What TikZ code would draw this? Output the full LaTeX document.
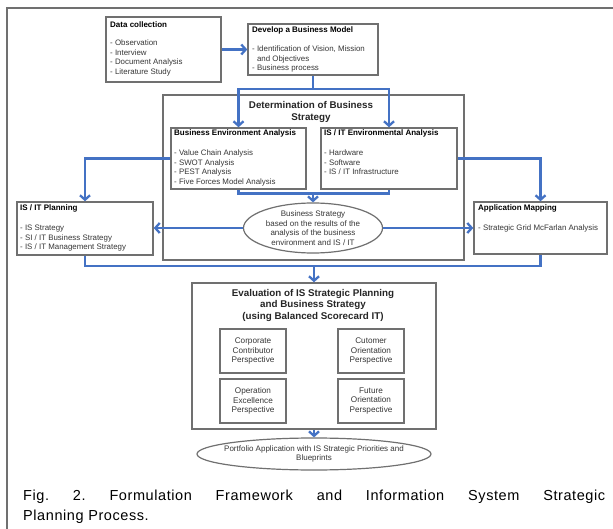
\documentclass[tikz,border=0pt]{standalone}
\usepackage{fontspec}
\setmainfont{Liberation Sans}
\newfontfamily\capfont[LetterSpace=4]{Liberation Sans}
\usetikzlibrary{arrows.meta,shapes.geometric}
\definecolor{lnblue}{RGB}{68,114,196}
\definecolor{bxgray}{RGB}{112,112,112}
\definecolor{txgray}{RGB}{55,55,55}
\newcommand{\mybox}[6]{\node[box,minimum width={(#4-#2)*1pt},minimum height={(#5-#3)*1pt}] (#1) at ({(#2+#4)/2},{(#3+#5)/2}) {#6};}
\begin{document}
\begin{tikzpicture}[x=1pt,y=-1pt,
  box/.style={draw=bxgray,line width=1.4pt,inner sep=0pt,fill=white,align=center,
    font=\fontsize{8.2}{9.4}\selectfont,text=txgray},
  ell/.style={ellipse,draw=bxgray,line width=1.2pt,inner sep=0pt,fill=white},
  ttl/.style={font=\fontsize{8}{9}\selectfont\bfseries,anchor=west,inner sep=0pt,text=black},
  bigttl/.style={font=\fontsize{9.8}{11.5}\selectfont\bfseries,inner sep=0pt,align=center,text=black!85},
  items/.style={font=\fontsize{7.9}{9.5}\selectfont,anchor=north west,inner sep=0pt,align=left,text=txgray},
  etext/.style={font=\fontsize{8}{9.5}\selectfont,inner sep=0pt,align=center,text=txgray},
  conn/.style={draw=lnblue,line width=2.3pt},
  arr/.style={conn,-{Straight Barb[length=4.5pt,width=10pt]}},
  frame/.style={draw=bxgray,line width=2.4pt}
]
\useasboundingbox (0,0) rectangle (613,529);
\clip (0,0) rectangle (613,529);
\draw[frame] (7,540) -- (7,8) -- (620,8);

% top boxes
\mybox{dc}{106}{17}{221}{82}{}
\node[ttl] (dct) at (110,25) {Data collection};
\node[items] (dci) at (110,39.5) {\rule{0pt}{6.2pt}- Observation\\- Interview\\- Document Analysis\\- Literature Study};

\mybox{dbm}{248}{24}{378}{75}{}
\node[ttl] (dbmt) at (252,30) {Develop a Business Model};
\node[items] (dbmi) at (252,45.5) {\rule{0pt}{6.2pt}- Identification of Vision, Mission\\\hphantom{- }and Objectives\\- Business process};

% determination
\mybox{det}{163}{95}{464}{260}{}
\node[bigttl] (dett) at (311,112) {Determination of Business\\Strategy};

\mybox{bea}{171}{128}{306}{189}{}
\node[ttl] (beat) at (174,133) {Business Environment Analysis};
\node[items] (beai) at (174,149.5) {\rule{0pt}{6.2pt}- Value Chain Analysis\\- SWOT Analysis\\- PEST Analysis\\- Five Forces Model Analysis};

\mybox{ise}{321}{128}{457}{189}{}
\node[ttl] (iset) at (324,133) {IS / IT Environmental Analysis};
\node[items] (isei) at (324,149.5) {\rule{0pt}{6.2pt}- Hardware\\- Software\\- IS / IT Infrastructure};

\node[ell,minimum width=139pt,minimum height=50pt] (bs) at (313,228) {};
\node[etext] (bst) at (bs) {Business Strategy\\based on the results of the\\analysis of the business\\environment and IS / IT};

% side boxes
\mybox{plan}{17}{202}{153}{255}{}
\node[ttl] (plant) at (20,208) {IS / IT Planning};
\node[items] (plani) at (20,224.5) {\rule{0pt}{6.2pt}- IS Strategy\\- SI / IT Business Strategy\\- IS / IT Management Strategy};

\mybox{app}{474}{202}{607}{254}{}
\node[ttl] (appt) at (478,208) {Application Mapping};
\node[items] (appi) at (478,224.5) {\rule{0pt}{6.2pt}- Strategic Grid McFarlan Analysis};

% evaluation
\mybox{eval}{192}{283}{436}{429}{}
\node[bigttl] (evalt) at (313,305) {Evaluation of IS Strategic Planning\\and Business Strategy\\(using Balanced Scorecard IT)};
\mybox{ca}{220}{329}{286}{373}{Corporate\\Contributor\\Perspective}
\mybox{cb}{338}{329}{404}{373}{Cutomer\\Orientation\\Perspective}
\mybox{cc}{220}{379}{286}{423}{Operation\\Excellence\\Perspective}
\mybox{cd}{338}{379}{404}{423}{Future\\Orientation\\Perspective}

\node[ell,minimum width=234pt,minimum height=32pt] (port) at (314,454) {};
\node[etext] (portt) at (port) {Portfolio Application with IS Strategic Priorities and\\Blueprints};

% connectors
\draw[arr] (dc.east) -- (dbm.west);
\path (dbm.south) ++(0,13) coordinate (split);
\draw[arr] (dbm.south) -- (split) -| (bea.north);
\draw[arr] (split) -| (ise.north);
\draw[arr] (bea.west) -| (plan.north);
\draw[arr] (ise.east) -| (app.north);
\path (bs.north) ++(0,-9) coordinate (merge);
\draw[conn] (bea.south) |- (merge) -| (ise.south);
\draw[arr] (merge) -- (bs.north);
\draw[arr] (bs.west) -- (bs.west -| plan.east);
\draw[arr] (bs.east) -- (bs.east -| app.west);
\path (eval.north) ++(0,-16) coordinate (join);
\draw[conn] (plan.south) |- (join) -| (app.south);
\draw[arr] (join) -- (eval.north);
\draw[arr] (eval.south) -- (port.north);

% caption
\node[anchor=north west,inner sep=0pt,text width=582pt,align=justify,
  font=\capfont\fontsize{14.5}{19.5}\selectfont\frenchspacing] (cap) at (23,490)
  {Fig. 2. Formulation Framework and Information System Strategic\linebreak Planning Process.};
\end{tikzpicture}
\end{document}
